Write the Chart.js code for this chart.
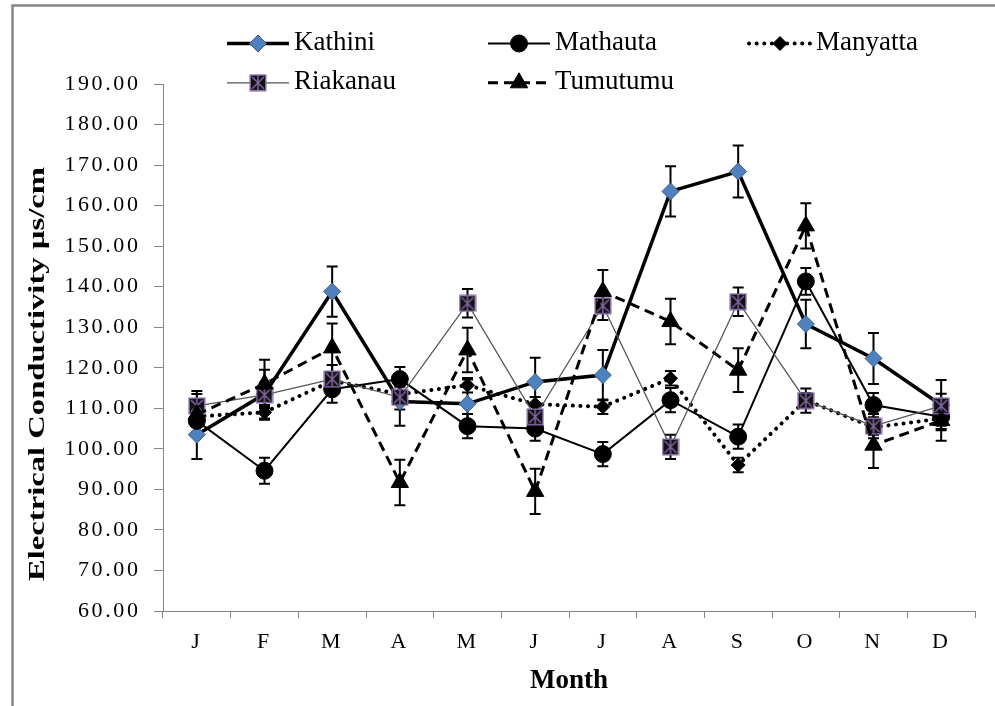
<!DOCTYPE html>
<html><head><meta charset="utf-8">
<script src="https://cdn.jsdelivr.net/npm/chart.js@4.4.1/dist/chart.umd.min.js"></script>
<style>html,body{margin:0;padding:0;background:#fff;}canvas{display:block;}</style>
</head><body>
<canvas id="c" width="995" height="706"></canvas>
<script>
// ---- data ----
const months = ['J','F','M','A','M','J','J','A','S','O','N','D'];
const seriesNames = ['Kathini','Mathauta','Manyatta','Riakanau','Tumutumu'];
const kathini    = [103.5, 113.5, 138.8, 111.7, 111.1, 116.5, 118.2, 163.5, 168.4, 130.8, 122.3, 110.8];
const kathiniErr = [6.0, 6.0, 6.2, 6.0, 6.0, 6.0, 6.2, 6.2, 6.4, 6.0, 6.3, 6.2];
const mathauta    = [106.9, 94.6, 114.7, 117.2, 105.6, 105.0, 98.7, 112.0, 103.0, 141.3, 110.8, 107.9];
const mathautaErr = [3.0, 3.2, 3.3, 3.0, 3.0, 3.0, 3.0, 3.0, 3.0, 3.3, 3.0, 3.0];
const manyatta    = [108.0, 109.0, 116.8, 113.5, 115.7, 111.0, 110.4, 117.4, 96.0, 112.0, 105.3, 107.5];
const manyattaErr = [1.8, 1.8, 1.8, 1.8, 1.8, 1.8, 1.8, 1.8, 1.8, 1.8, 1.8, 1.8];
const riakanau    = [110.6, 113.3, 117.2, 112.7, 135.9, 107.9, 135.3, 100.5, 136.3, 111.9, 105.6, 110.6];
const riakanauErr = [3.7, 3.0, 3.5, 3.0, 3.5, 3.0, 3.5, 3.0, 3.5, 3.0, 3.0, 3.0];
const tumutumu    = [108.5, 116.0, 124.9, 91.7, 124.4, 89.5, 138.8, 131.4, 119.4, 155.0, 100.9, 107.0];
const tumutumuErr = [5.0, 6.0, 6.0, 5.6, 5.5, 5.6, 5.3, 5.6, 5.4, 5.6, 5.6, 5.0];
const yMin = 60, yMax = 190, yStep = 10;
const xTitle = 'Month';
const yTitle = 'Electrical Conductivity µs/cm';

const FONT = "'Liberation Serif','Times New Roman',serif";
Chart.defaults.font.family = FONT;
Chart.defaults.color = '#000';

function riakanauMarker(){
  const c = document.createElement('canvas'); c.width = 18; c.height = 18;
  const g = c.getContext('2d');
  g.fillStyle = '#111'; g.fillRect(1,1,16,16);
  g.strokeStyle = '#8064A2'; g.lineWidth = 1.5; g.strokeRect(1.25,1.25,15.5,15.5);
  g.beginPath(); g.moveTo(3,3); g.lineTo(15,15); g.moveTo(15,3); g.lineTo(3,15);
  g.moveTo(9,1.5); g.lineTo(9,16.5); g.stroke();
  return c;
}
const rMark = riakanauMarker();

const datasets = [
  {label: seriesNames[0], data: kathini, err: kathiniErr, borderColor:'#000', borderWidth:3.5,
   pointStyle:'rectRot', pointRadius:8.5, pointBackgroundColor:'#4F81BD', pointBorderColor:'#385D8A', pointBorderWidth:1, order:5},
  {label: seriesNames[1], data: mathauta, err: mathautaErr, borderColor:'#000', borderWidth:2,
   pointStyle:'circle', pointRadius:8.5, pointBackgroundColor:'#000', pointBorderColor:'#000', pointBorderWidth:1, order:4},
  {label: seriesNames[2], data: manyatta, err: manyattaErr, borderColor:'#000', borderWidth:4, borderDash:[0.1,7.5], borderCapStyle:'round',
   pointStyle:'rectRot', pointRadius:7, pointBackgroundColor:'#000', pointBorderColor:'#000', pointBorderWidth:1, order:3},
  {label: seriesNames[3], data: riakanau, err: riakanauErr, borderColor:'#555', borderWidth:1.3,
   pointStyle:rMark, pointRadius:9, pointBackgroundColor:'#111', pointBorderColor:'#8064A2', pointBorderWidth:1, order:2},
  {label: seriesNames[4], data: tumutumu, err: tumutumuErr, borderColor:'#000', borderWidth:3, borderDash:[10,6],
   pointStyle:'triangle', pointRadius:10, pointBackgroundColor:'#000', pointBorderColor:'#000', pointBorderWidth:1, order:1}
];
datasets.forEach(d => { d.tension = 0; d.fill = false; d.pointHoverRadius = d.pointRadius; });

function drawMarker(ctx, d, x, y){
  ctx.save();
  ctx.fillStyle = d.pointBackgroundColor; ctx.strokeStyle = d.pointBorderColor; ctx.lineWidth = d.pointBorderWidth;
  const r = d.pointRadius; const s = d.pointStyle;
  if (typeof s === 'object') { ctx.drawImage(s, x - s.width/2, y - s.height/2); ctx.restore(); return; }
  ctx.beginPath();
  if (s === 'rectRot') { ctx.moveTo(x, y-r); ctx.lineTo(x+r, y); ctx.lineTo(x, y+r); ctx.lineTo(x-r, y); ctx.closePath(); }
  else if (s === 'circle') { ctx.arc(x, y, r, 0, Math.PI*2); }
  else if (s === 'triangle') {
    for (let k=0;k<3;k++){ const a = k*2*Math.PI/3; const px = x + Math.sin(a)*r, py = y - Math.cos(a)*r; k?ctx.lineTo(px,py):ctx.moveTo(px,py); }
    ctx.closePath();
  }
  ctx.fill(); ctx.stroke(); ctx.restore();
}

const framePlugin = {
  id:'frame',
  beforeDraw(chart){
    const ctx = chart.ctx; ctx.save();
    ctx.fillStyle = '#fff'; ctx.fillRect(0,0,chart.width,chart.height);
    ctx.strokeStyle = '#868686'; ctx.lineWidth = 2.5;
    ctx.strokeRect(12.5, 5.5, 2000, 2000);
    ctx.restore();
    // wider spacing for axis tick labels (scales are drawn next)
    if ('letterSpacing' in ctx) ctx.letterSpacing = '2.6px';
  },
  beforeDatasetsDraw(chart){
    const ctx = chart.ctx;
    if ('letterSpacing' in ctx) ctx.letterSpacing = '0px';
  }
};

const errorBarPlugin = {
  id:'errorBars',
  beforeDatasetsDraw(chart){
    const ctx = chart.ctx, xs = chart.scales.x, ys = chart.scales.y;
    ctx.save(); ctx.strokeStyle = '#000'; ctx.lineWidth = 2;
    chart.data.datasets.forEach(d => {
      d.data.forEach((v, i) => {
        const e = d.err[i]; const x = xs.getPixelForValue(i);
        const y1 = ys.getPixelForValue(v + e), y2 = ys.getPixelForValue(v - e);
        ctx.beginPath();
        ctx.moveTo(x, y1); ctx.lineTo(x, y2);
        ctx.moveTo(x-5.5, y1); ctx.lineTo(x+5.5, y1);
        ctx.moveTo(x-5.5, y2); ctx.lineTo(x+5.5, y2);
        ctx.stroke();
      });
    });
    ctx.restore();
  }
};

const legendPlugin = {
  id:'customLegend',
  afterDraw(chart){
    const ctx = chart.ctx;
    if ('letterSpacing' in ctx) ctx.letterSpacing = '0px';
    const spots = [[227,43.5],[488,43.5],[749,43.5],[227,82.8],[488,82.8]];
    chart.data.datasets.forEach((d, k) => {
      const [x, y] = spots[k];
      ctx.save();
      ctx.strokeStyle = d.borderColor; ctx.lineWidth = d.borderWidth;
      ctx.setLineDash(d.borderDash || []); ctx.lineCap = d.borderCapStyle || 'butt';
      ctx.beginPath(); ctx.moveTo(x, y); ctx.lineTo(x + 62, y); ctx.stroke();
      ctx.restore();
      drawMarker(ctx, d, x + 31, y);
      ctx.save();
      ctx.fillStyle = '#000'; ctx.font = '27px ' + FONT; ctx.textBaseline = 'alphabetic'; ctx.textAlign = 'left';
      ctx.fillText(d.label, x + 67, y + 6.6);
      ctx.restore();
    });
  }
};

const titlePlugin = {
  id:'axisTitles',
  afterDraw(chart){
    const ctx = chart.ctx;
    if ('letterSpacing' in ctx) ctx.letterSpacing = '0px';
    ctx.save();
    ctx.translate(38, 374); ctx.rotate(-Math.PI/2); ctx.scale(1.36, 1);
    ctx.font = 'bold 24px ' + FONT; ctx.fillStyle = '#000';
    ctx.textAlign = 'center'; ctx.textBaseline = 'middle';
    ctx.fillText(yTitle, 0, 0);
    ctx.restore();
    const a = chart.chartArea;
    ctx.save();
    ctx.font = 'bold 27px ' + FONT; ctx.fillStyle = '#000';
    ctx.textAlign = 'center'; ctx.textBaseline = 'alphabetic';
    ctx.fillText(xTitle, (a.left + a.right) / 2, 688);
    ctx.restore();
  }
};

new Chart(document.getElementById('c'), {
  type:'line',
  data:{ labels: months, datasets },
  options:{
    responsive:false, animation:false,
    layout:{ padding:{ top:84, right:20, bottom:0, left:0 } },
    plugins:{ legend:{ display:false }, tooltip:{ enabled:false } },
    scales:{
      x:{
        offset:true,
        afterFit(s){ s.height = 95; },
        grid:{ offset:true, drawOnChartArea:false, tickLength:7, color:'#868686', lineWidth:1 },
        border:{ color:'#868686', width:1 },
        ticks:{ font:{ size:22 }, color:'#000', padding:11, maxRotation:0, autoSkip:false },
        title:{ display:false, text:xTitle }
      },
      y:{
        min:yMin, max:yMax,
        afterFit(s){ s.width = 163; },
        grid:{ drawOnChartArea:false, tickLength:9, color:'#868686', lineWidth:1 },
        border:{ color:'#868686', width:1 },
        ticks:{ stepSize:yStep, font:{ size:22 }, color:'#000', padding:13.5, callback:v => Number(v).toFixed(2) }
      }
    }
  },
  plugins:[framePlugin, errorBarPlugin, legendPlugin, titlePlugin]
});
</script>
</body></html>
